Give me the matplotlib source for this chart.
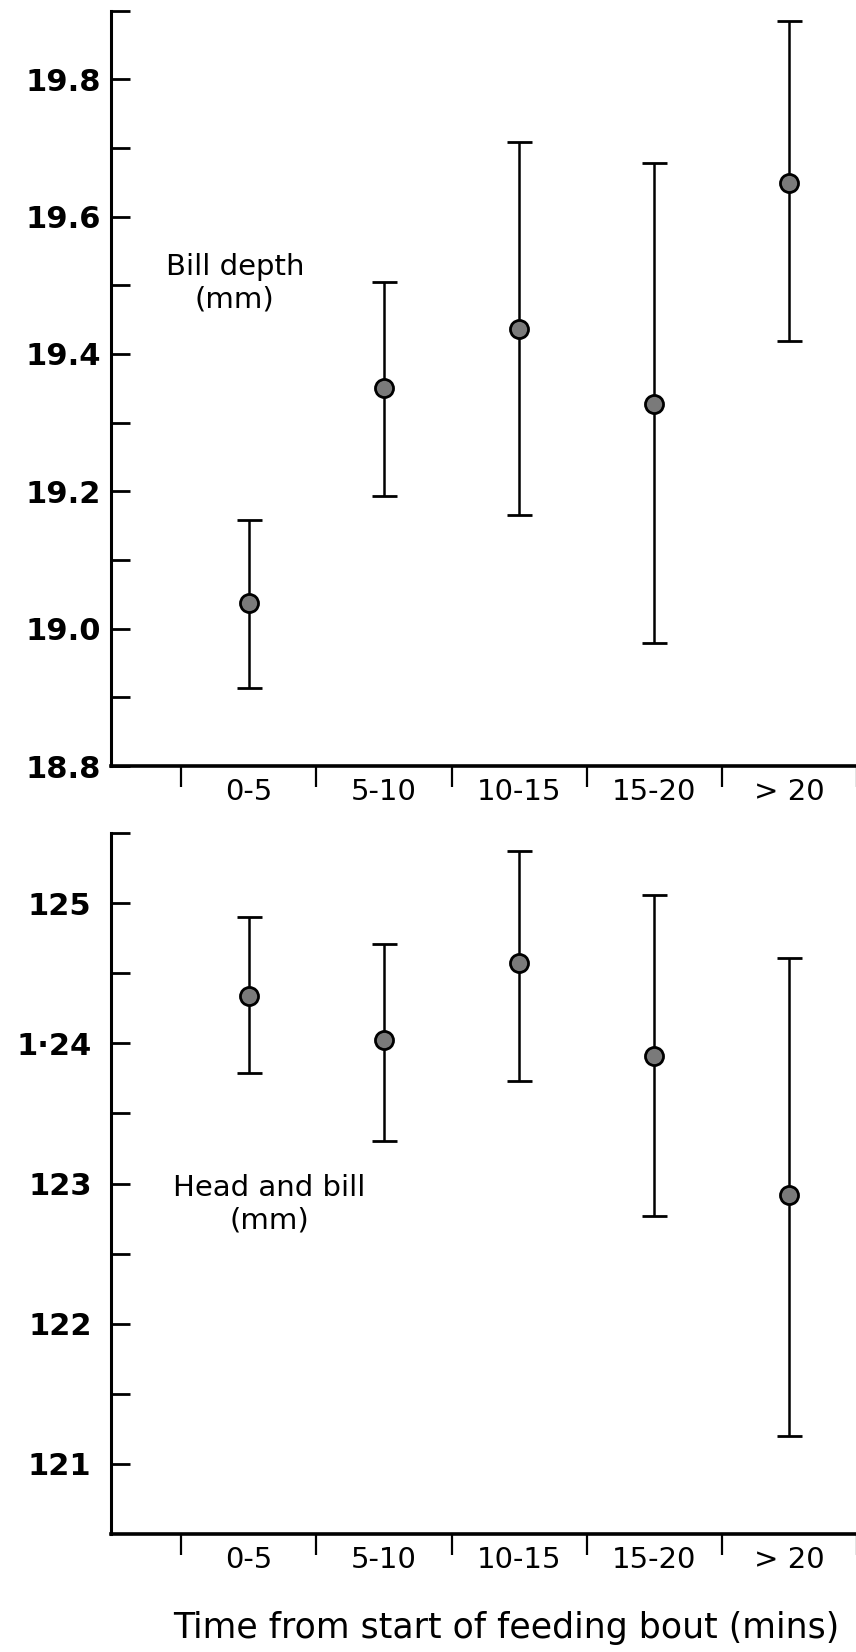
import numpy as np
import matplotlib.pyplot as plt

# categories (feeding bout time bins)
categories = ['0-5', '5-10', '10-15', '15-20', '> 20']

# bill depth (mm): mean, upper and lower limits
depth_mean = [19.037, 19.350, 19.436, 19.327, 19.649]
depth_hi = [19.158, 19.505, 19.708, 19.678, 19.884]
depth_lo = [18.914, 19.193, 19.165, 18.979, 19.419]
depth_ticks = [18.8, 19.0, 19.2, 19.4, 19.6, 19.8]
depth_labels = ['18.8', '19.0', '19.2', '19.4', '19.6', '19.8']

# head and bill: mean, upper and lower limits
head_mean = [124.34, 124.02, 124.57, 123.91, 122.92]
head_hi = [124.90, 124.71, 125.37, 125.06, 124.61]
head_lo = [123.79, 123.30, 123.73, 122.77, 121.20]
head_ticks = [121, 122, 123, 124, 125]
head_labels = ['121', '122', '123', '1·24', '125']

W, H = 856, 1652
fig = plt.figure(figsize=(W / 100, H / 100), dpi=100)
fig.patch.set_facecolor('white')

x = np.arange(len(categories))
left = 111 / W
width = (857 - 111) / W


def style_axes(ax, ylim, ticks, labels, minor, ypad):
    for s in ['top', 'right']:
        ax.spines[s].set_visible(False)
    ax.spines['left'].set_linewidth(2.2)
    ax.spines['bottom'].set_linewidth(2.6)
    ax.set_xlim(-1.02, 4.5)
    ax.set_ylim(*ylim)
    ax.set_yticks(ticks)
    ax.set_yticklabels(labels)
    ax.set_yticks(minor, minor=True)
    ax.tick_params(axis='y', which='both', direction='in', length=14,
                   width=2, pad=ypad)
    ax.tick_params(axis='y', which='major', labelsize=22)
    for t in ax.get_yticklabels():
        t.set_fontweight('bold')
    ax.set_xticks(x)
    ax.set_xticklabels(categories, fontsize=21)
    ax.set_xticks(np.arange(-0.5, 5, 1.0), minor=True)
    ax.tick_params(axis='x', which='major', length=0, pad=9)
    ax.tick_params(axis='x', which='minor', direction='out', length=15, width=1.6)


def draw(ax, mean, hi, lo):
    mean = np.array(mean)
    err = [mean - np.array(lo), np.array(hi) - mean]
    ax.errorbar(x, mean, yerr=err, fmt='o', color='black', ecolor='black',
                elinewidth=1.8, capsize=9, capthick=2, markersize=13,
                markerfacecolor='#7a7a7a', markeredgecolor='black',
                markeredgewidth=2, clip_on=False, zorder=3)


# top panel: bill depth
ax1 = fig.add_axes([left, (H - 766) / H, width, (766 - 10.5) / H])
draw(ax1, depth_mean, depth_hi, depth_lo)
style_axes(ax1, (18.8, 19.9), depth_ticks, depth_labels,
           np.arange(18.9, 19.95, 0.2), 7)
ax1.text(0.166, 0.639, 'Bill depth\n(mm)', transform=ax1.transAxes,
         ha='center', va='center', multialignment='center', fontsize=21,
         linespacing=1.2)

# bottom panel: head and bill
ax2 = fig.add_axes([left, (H - 1534) / H, width, (1534 - 833) / H])
draw(ax2, head_mean, head_hi, head_lo)
style_axes(ax2, (120.5, 125.5), head_ticks, head_labels,
           np.arange(121.5, 125.6, 1.0), 14)
ax2.text(0.212, 0.471, 'Head and bill\n(mm)', transform=ax2.transAxes,
         ha='center', va='center', multialignment='center', fontsize=21,
         linespacing=1.2)

fig.text(506 / W, 1 - 1628 / H, 'Time from start of feeding bout (mins)',
         ha='center', va='center', fontsize=25)

fig.savefig('out.png', dpi=100, facecolor='white')
